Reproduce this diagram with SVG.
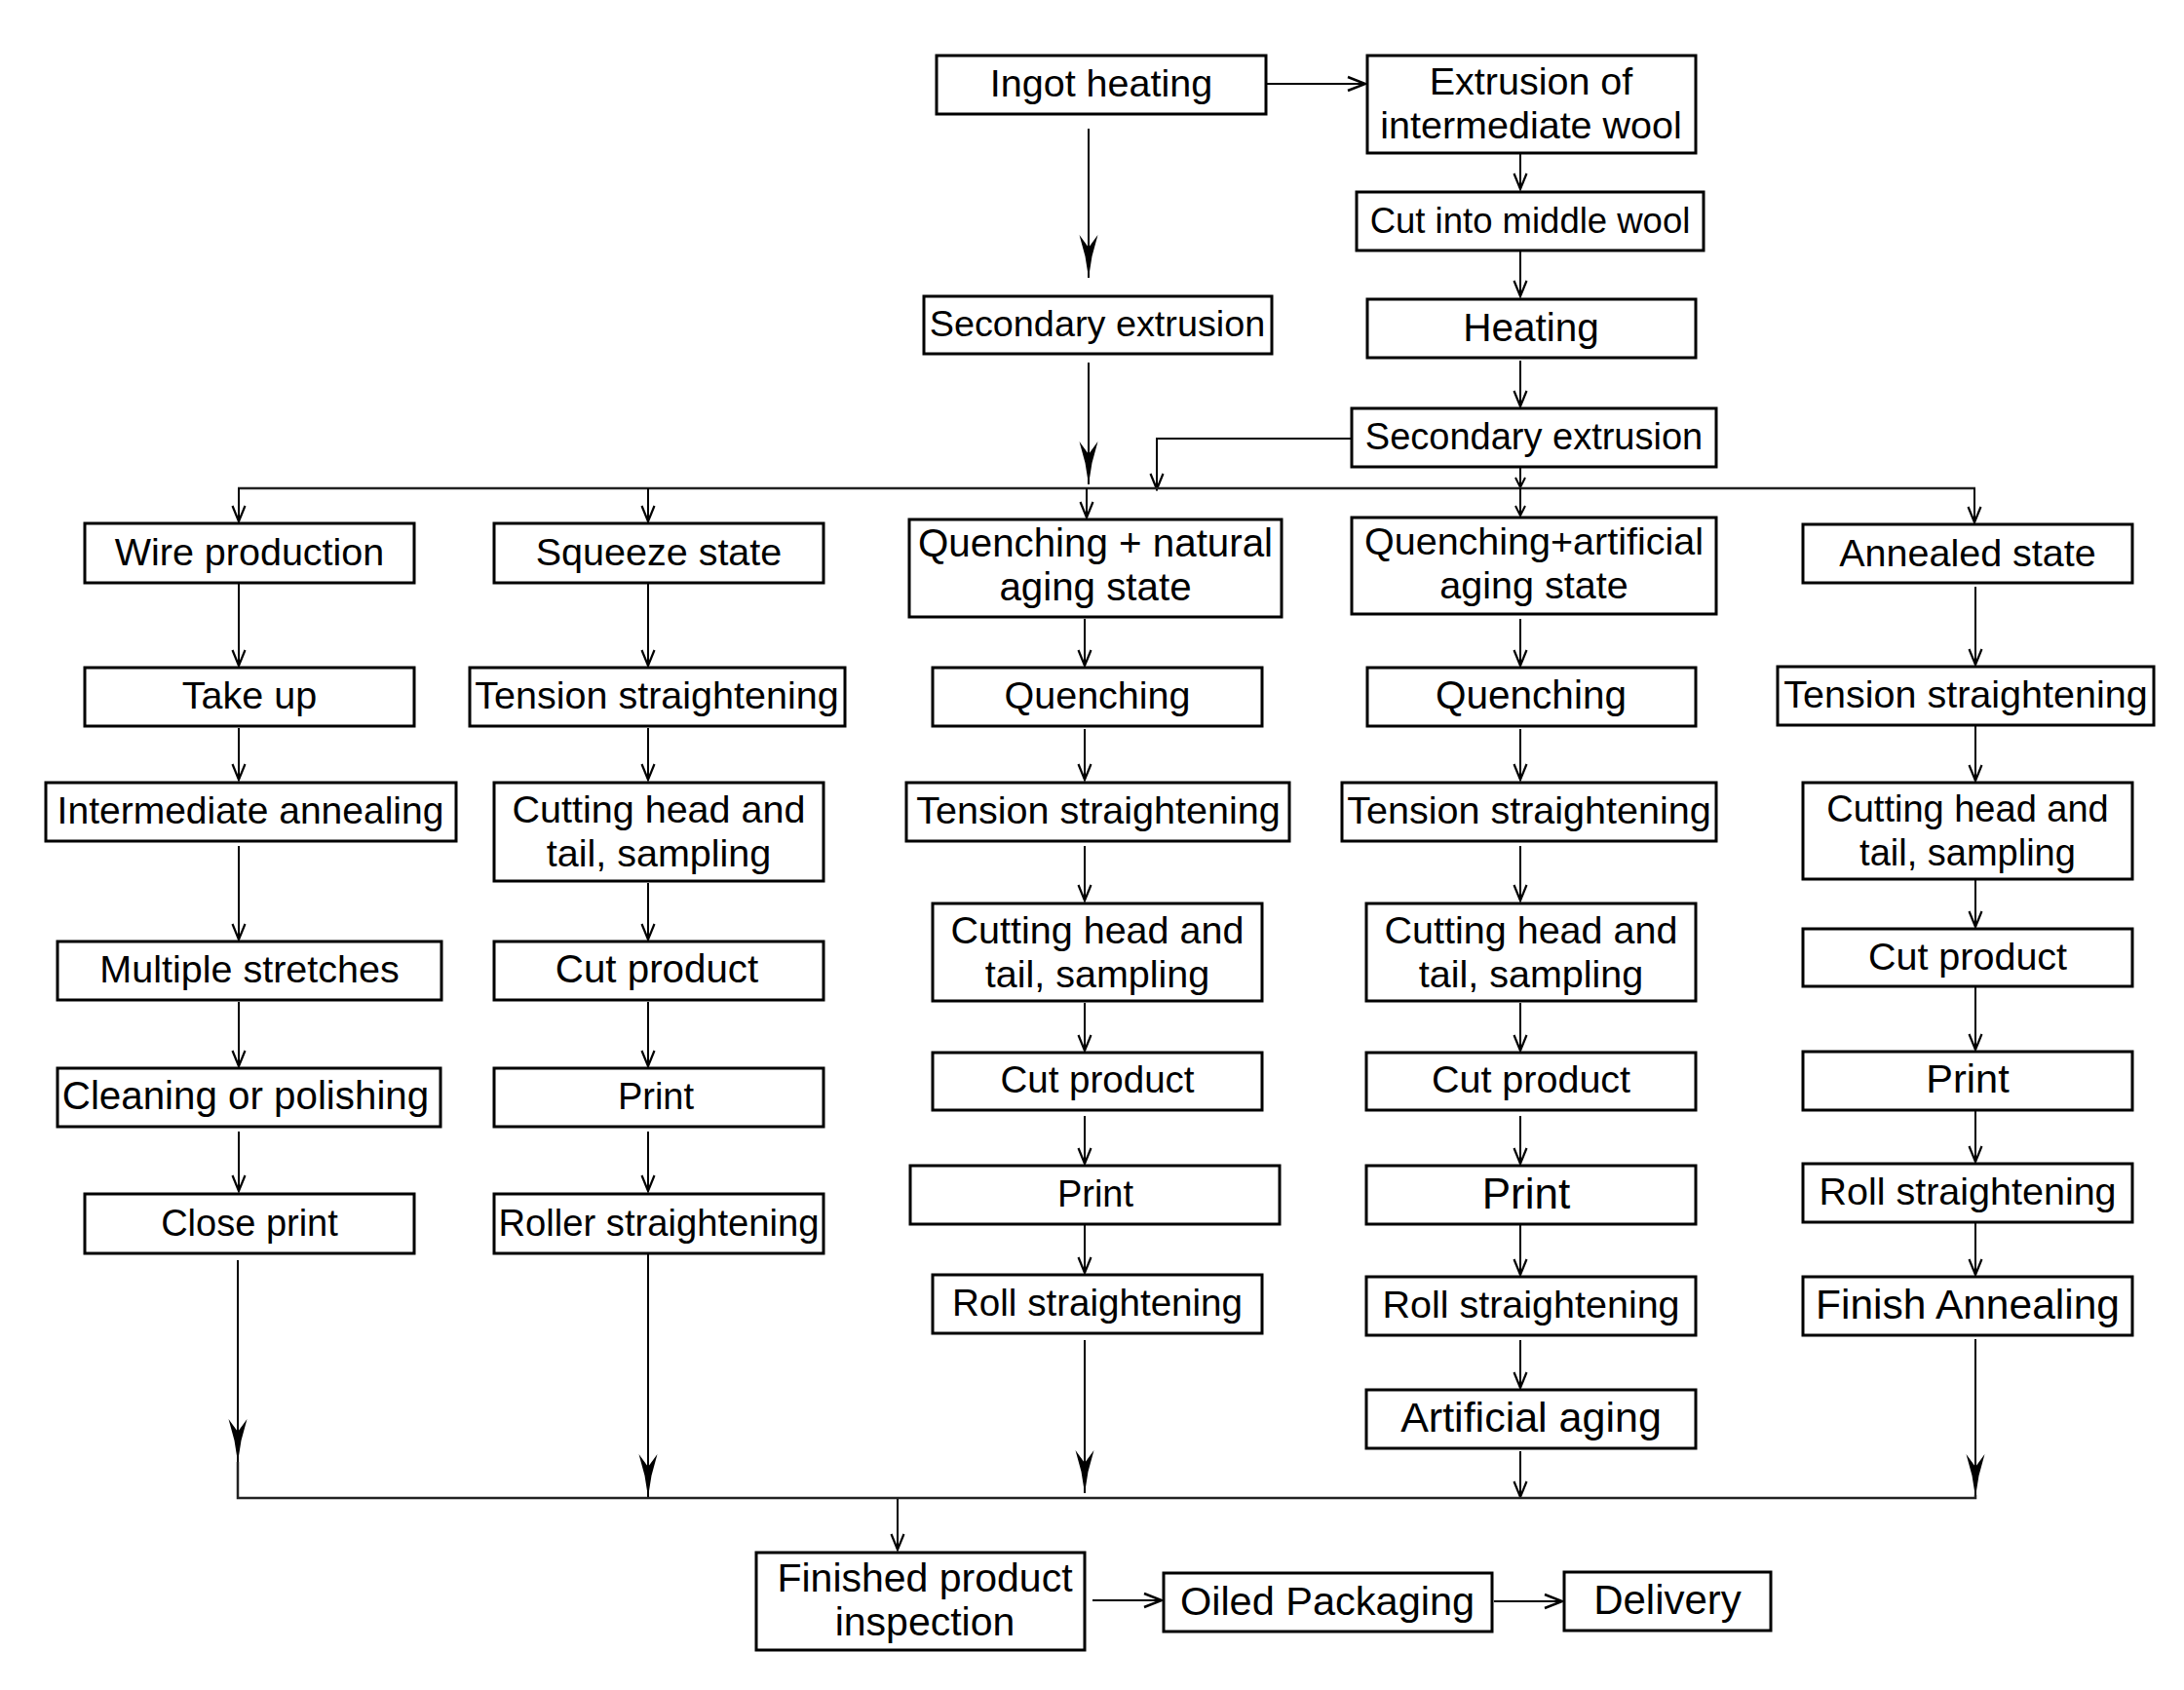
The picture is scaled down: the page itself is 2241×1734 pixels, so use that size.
<svg xmlns="http://www.w3.org/2000/svg" width="2241" height="1734" viewBox="0 0 2241 1734">
<style>
.b{fill:#fff;stroke:#000;stroke-width:3}
.t{font-family:"Liberation Sans",Arial,sans-serif;font-size:39.5px;text-anchor:middle;fill:#000}
.c{fill:none;stroke:#000;stroke-width:2}
.bus{fill:none;stroke:#222;stroke-width:2.5}
</style>
<defs>
<marker id="v" viewBox="-20 -10 22 20" markerWidth="22" markerHeight="20" refX="0" refY="0" orient="auto" markerUnits="userSpaceOnUse"><path d="M-16,-6.5 L0,0 L-16,6.5" fill="none" stroke="#000" stroke-width="2.2"/></marker>
<marker id="vs" viewBox="-20 -10 22 20" markerWidth="22" markerHeight="20" refX="0" refY="0" orient="auto" markerUnits="userSpaceOnUse"><path d="M-10,-5 L0,0 L-10,5" fill="none" stroke="#000" stroke-width="2"/></marker>
<marker id="vh" viewBox="-24 -10 26 20" markerWidth="26" markerHeight="20" refX="0" refY="0" orient="auto" markerUnits="userSpaceOnUse"><path d="M-18,-7 L0,0 L-18,7" fill="none" stroke="#000" stroke-width="2.5"/></marker>
<marker id="big" viewBox="-50 -12 52 24" markerWidth="52" markerHeight="24" refX="0" refY="0" orient="auto" markerUnits="userSpaceOnUse"><path d="M0,0 L-22,-3.5 L-44,-9.5 L-31,0 L-44,9.5 L-22,3.5 Z" fill="#000"/></marker>
</defs>
<rect width="2241" height="1734" fill="#fff"/>
<g id="connectors">
<path class="c" d="M1299,86 H1401" stroke-width="2.5" marker-end="url(#vh)"/>
<path class="c" d="M1117,132 V285" stroke-width="2.5" marker-end="url(#big)"/>
<path class="c" d="M1560,157 V194" marker-end="url(#v)"/>
<path class="c" d="M1560,258 V304" marker-end="url(#v)"/>
<path class="c" d="M1560,370 V417" marker-end="url(#v)"/>
<path class="c" d="M1117,372 V497" stroke-width="2.5" marker-end="url(#big)"/>
<path class="c" d="M1387,450 H1187 V502" marker-end="url(#v)"/>
<path class="c" d="M1560,480 V500" marker-end="url(#vs)"/>
<path class="bus" d="M244,501 H2027"/>
<path class="c" d="M245,501 V535" marker-end="url(#v)"/>
<path class="c" d="M665,501 V535" marker-end="url(#v)"/>
<path class="c" d="M1115,501 V531" marker-end="url(#v)"/>
<path class="c" d="M1560,501 V529" marker-end="url(#vs)"/>
<path class="c" d="M2026,501 V536" marker-end="url(#v)"/>
<path class="c" d="M245,599 V683" marker-end="url(#v)"/>
<path class="c" d="M245,747 V800" marker-end="url(#v)"/>
<path class="c" d="M245,868 V964" marker-end="url(#v)"/>
<path class="c" d="M245,1028 V1094" marker-end="url(#v)"/>
<path class="c" d="M245,1161 V1222" marker-end="url(#v)"/>
<path class="c" d="M244,1293 V1500" marker-end="url(#big)"/>
<path class="c" d="M665,599 V683" marker-end="url(#v)"/>
<path class="c" d="M665,747 V800" marker-end="url(#v)"/>
<path class="c" d="M665,906 V964" marker-end="url(#v)"/>
<path class="c" d="M665,1028 V1094" marker-end="url(#v)"/>
<path class="c" d="M665,1161 V1222" marker-end="url(#v)"/>
<path class="c" d="M665,1287 V1536" marker-end="url(#big)"/>
<path class="c" d="M1113,635 V683" marker-end="url(#v)"/>
<path class="c" d="M1113,748 V800" marker-end="url(#v)"/>
<path class="c" d="M1113,868 V924" marker-end="url(#v)"/>
<path class="c" d="M1113,1029 V1078" marker-end="url(#v)"/>
<path class="c" d="M1113,1145 V1194" marker-end="url(#v)"/>
<path class="c" d="M1113,1257 V1306" marker-end="url(#v)"/>
<path class="c" d="M1113,1375 V1532" marker-end="url(#big)"/>
<path class="c" d="M1560,635 V683" marker-end="url(#v)"/>
<path class="c" d="M1560,748 V800" marker-end="url(#v)"/>
<path class="c" d="M1560,868 V924" marker-end="url(#v)"/>
<path class="c" d="M1560,1029 V1078" marker-end="url(#v)"/>
<path class="c" d="M1560,1145 V1194" marker-end="url(#v)"/>
<path class="c" d="M1560,1257 V1308" marker-end="url(#v)"/>
<path class="c" d="M1560,1375 V1424" marker-end="url(#v)"/>
<path class="c" d="M1560,1489 V1536" marker-end="url(#v)"/>
<path class="c" d="M2027,602 V682" marker-end="url(#v)"/>
<path class="c" d="M2027,745 V801" marker-end="url(#v)"/>
<path class="c" d="M2027,903 V951" marker-end="url(#v)"/>
<path class="c" d="M2027,1013 V1077" marker-end="url(#v)"/>
<path class="c" d="M2027,1140 V1192" marker-end="url(#v)"/>
<path class="c" d="M2027,1255 V1308" marker-end="url(#v)"/>
<path class="c" d="M2027,1374 V1536" marker-end="url(#big)"/>
<path class="bus" d="M244,1500 V1537 H2027 V1534"/>
<path class="c" d="M921,1538 V1590" marker-end="url(#v)"/>
<path class="c" d="M1121,1642 H1192" stroke-width="2.5" marker-end="url(#vh)"/>
<path class="c" d="M1533,1643 H1603" stroke-width="2.5" marker-end="url(#vh)"/>
</g>
<g id="n-ingot"><rect class="b" x="961" y="57" width="338" height="60"/><text class="t" x="1130" y="99">Ingot heating</text></g>
<g id="n-extr"><rect class="b" x="1403" y="57" width="337" height="100"/><text class="t" x="1571" y="97">Extrusion of</text><text class="t" x="1571" y="142">intermediate wool</text></g>
<g id="n-cutmid"><rect class="b" x="1392" y="197" width="356" height="60"/><text class="t" x="1570" y="239" style="font-size:36.5px">Cut into middle wool</text></g>
<g id="n-heating"><rect class="b" x="1403" y="307" width="337" height="60"/><text class="t" x="1571" y="350" style="font-size:40.5px">Heating</text></g>
<g id="n-sec2"><rect class="b" x="1387" y="419" width="374" height="60"/><text class="t" x="1574" y="461" style="font-size:38px">Secondary extrusion</text></g>
<g id="n-sec1"><rect class="b" x="948" y="304" width="357" height="59"/><text class="t" x="1126" y="345" style="font-size:37.8px">Secondary extrusion</text></g>

<g id="n-wire"><rect class="b" x="87" y="537" width="338" height="61"/><text class="t" x="256" y="580">Wire production</text></g>
<g id="n-takeup"><rect class="b" x="87" y="685" width="338" height="60"/><text class="t" x="256" y="727">Take up</text></g>
<g id="n-interann"><rect class="b" x="47" y="803" width="421" height="60"/><text class="t" x="257" y="845" style="font-size:39px">Intermediate annealing</text></g>
<g id="n-multi"><rect class="b" x="59" y="966" width="394" height="60"/><text class="t" x="256" y="1008">Multiple stretches</text></g>
<g id="n-clean"><rect class="b" x="59" y="1096" width="393" height="60"/><text class="t" x="252" y="1138" style="font-size:40.3px">Cleaning or polishing</text></g>
<g id="n-closeprint"><rect class="b" x="87" y="1225" width="338" height="61"/><text class="t" x="256" y="1268" style="font-size:38px">Close print</text></g>

<g id="n-squeeze"><rect class="b" x="507" y="537" width="338" height="61"/><text class="t" x="676" y="580">Squeeze state</text></g>
<g id="n-ts1"><rect class="b" x="482" y="685" width="385" height="60"/><text class="t" x="674" y="727">Tension straightening</text></g>
<g id="n-cht1"><rect class="b" x="507" y="803" width="338" height="101"/><text class="t" x="676" y="844">Cutting head and</text><text class="t" x="676" y="889">tail, sampling</text></g>
<g id="n-cp1"><rect class="b" x="507" y="966" width="338" height="60"/><text class="t" x="674" y="1008" style="font-size:40.3px">Cut product</text></g>
<g id="n-pr1"><rect class="b" x="507" y="1096" width="338" height="60"/><text class="t" x="673" y="1138" style="font-size:38px">Print</text></g>
<g id="n-roller"><rect class="b" x="507" y="1225" width="338" height="61"/><text class="t" x="676" y="1268" style="font-size:38.2px">Roller straightening</text></g>

<g id="n-qn"><rect class="b" x="933" y="533" width="382" height="100"/><text class="t" x="1124" y="571" style="font-size:40.3px">Quenching + natural</text><text class="t" x="1124" y="616" style="font-size:40.3px">aging state</text></g>
<g id="n-q1"><rect class="b" x="957" y="685" width="338" height="60"/><text class="t" x="1126" y="727">Quenching</text></g>
<g id="n-ts2"><rect class="b" x="930" y="803" width="393" height="60"/><text class="t" x="1127" y="845">Tension straightening</text></g>
<g id="n-cht2"><rect class="b" x="957" y="927" width="338" height="100"/><text class="t" x="1126" y="968">Cutting head and</text><text class="t" x="1126" y="1013">tail, sampling</text></g>
<g id="n-cp2"><rect class="b" x="957" y="1080" width="338" height="59"/><text class="t" x="1126" y="1121" style="font-size:38.5px">Cut product</text></g>
<g id="n-pr2"><rect class="b" x="934" y="1196" width="379" height="60"/><text class="t" x="1124" y="1238" style="font-size:38px">Print</text></g>
<g id="n-rs2"><rect class="b" x="957" y="1308" width="338" height="60"/><text class="t" x="1126" y="1350" style="font-size:38.6px">Roll straightening</text></g>

<g id="n-qa"><rect class="b" x="1387" y="531" width="374" height="99"/><text class="t" x="1574" y="569">Quenching+artificial</text><text class="t" x="1574" y="614">aging state</text></g>
<g id="n-q2"><rect class="b" x="1403" y="685" width="337" height="60"/><text class="t" x="1571" y="727" style="font-size:40.5px">Quenching</text></g>
<g id="n-ts3"><rect class="b" x="1377" y="803" width="384" height="60"/><text class="t" x="1569" y="845">Tension straightening</text></g>
<g id="n-cht3"><rect class="b" x="1402" y="927" width="338" height="100"/><text class="t" x="1571" y="968">Cutting head and</text><text class="t" x="1571" y="1013">tail, sampling</text></g>
<g id="n-cp3"><rect class="b" x="1402" y="1080" width="338" height="59"/><text class="t" x="1571" y="1121">Cut product</text></g>
<g id="n-pr3"><rect class="b" x="1402" y="1196" width="338" height="60"/><text class="t" x="1566" y="1240" style="font-size:44px">Print</text></g>
<g id="n-rs3"><rect class="b" x="1402" y="1310" width="338" height="60"/><text class="t" x="1571" y="1352">Roll straightening</text></g>
<g id="n-aa"><rect class="b" x="1402" y="1426" width="338" height="60"/><text class="t" x="1571" y="1469" style="font-size:43px">Artificial aging</text></g>

<g id="n-ann"><rect class="b" x="1850" y="538" width="338" height="60"/><text class="t" x="2019" y="581">Annealed state</text></g>
<g id="n-ts4"><rect class="b" x="1824" y="684" width="386" height="60"/><text class="t" x="2017" y="726">Tension straightening</text></g>
<g id="n-cht4"><rect class="b" x="1850" y="803" width="338" height="99"/><text class="t" x="2019" y="843" style="font-size:38px">Cutting head and</text><text class="t" x="2019" y="888" style="font-size:38px">tail, sampling</text></g>
<g id="n-cp4"><rect class="b" x="1850" y="953" width="338" height="59"/><text class="t" x="2019" y="995">Cut product</text></g>
<g id="n-pr4"><rect class="b" x="1850" y="1079" width="338" height="60"/><text class="t" x="2019" y="1121" style="font-size:41.5px">Print</text></g>
<g id="n-rs4"><rect class="b" x="1850" y="1194" width="338" height="60"/><text class="t" x="2019" y="1236">Roll straightening</text></g>
<g id="n-fa"><rect class="b" x="1850" y="1310" width="338" height="60"/><text class="t" x="2019" y="1353" style="font-size:42.5px">Finish Annealing</text></g>

<g id="n-fin"><rect class="b" x="776" y="1593" width="337" height="100"/><text class="t" x="949" y="1633" style="font-size:41px">Finished product</text><text class="t" x="949" y="1678" style="font-size:41px">inspection</text></g>
<g id="n-oil"><rect class="b" x="1194" y="1614" width="337" height="60"/><text class="t" x="1362" y="1657" style="font-size:41.5px">Oiled Packaging</text></g>
<g id="n-del"><rect class="b" x="1605" y="1613" width="212" height="60"/><text class="t" x="1711" y="1656" style="font-size:42px">Delivery</text></g>
</svg>
